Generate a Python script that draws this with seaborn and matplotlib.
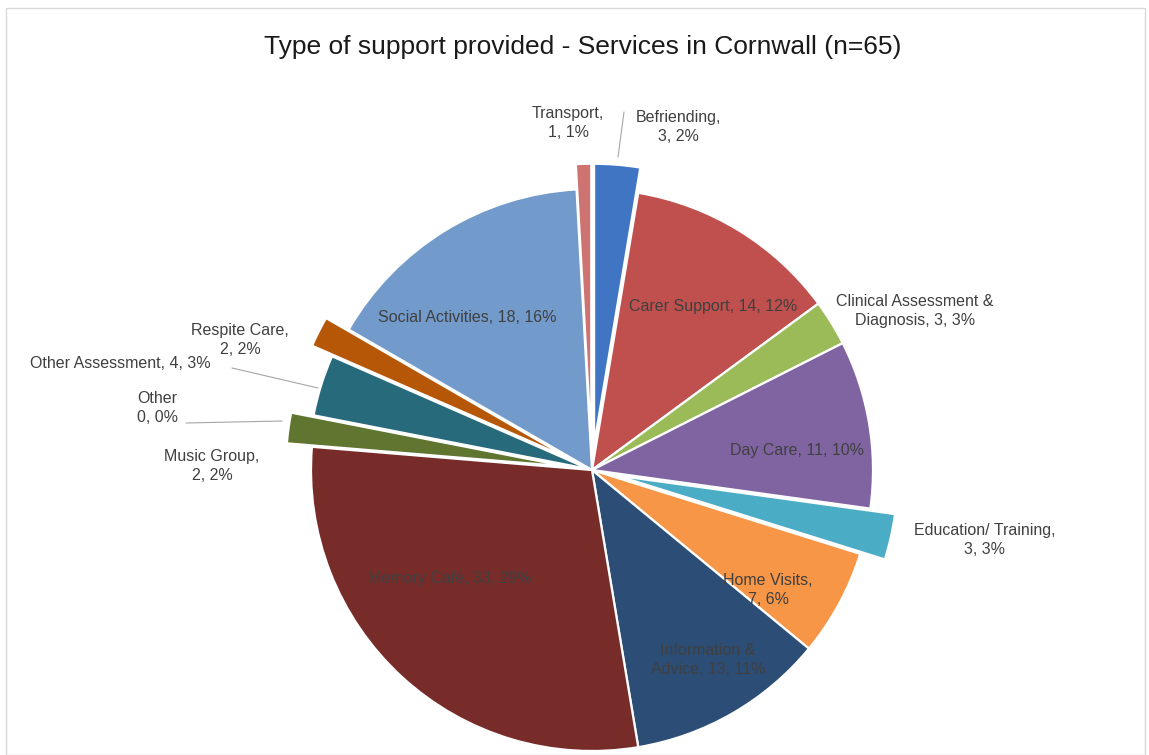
import matplotlib
matplotlib.use("Agg")
import matplotlib.pyplot as plt
from matplotlib.patches import Rectangle
import seaborn as sns

# Support types, clockwise from 12 o'clock
categories = [
    "Befriending", "Carer Support", "Clinical Assessment &\nDiagnosis",
    "Day Care", "Education/ Training", "Home Visits",
    "Information &\nAdvice", "Memory Café", "Music Group", "Other",
    "Other Assessment", "Respite Care", "Social Activities", "Transport",
]
counts = [3, 14, 3, 11, 3, 7, 13, 33, 2, 0, 4, 2, 18, 1]
percent_labels = ["2%", "12%", "3%", "10%", "3%", "6%", "11%", "29%",
                  "2%", "0%", "3%", "2%", "16%", "1%"]
explode = [0.09, 0, 0, 0, 0.09, 0, 0, 0, 0.09, 0, 0.01, 0.09, 0, 0.09]

palette = sns.color_palette([
    "#3F75C2", "#C0504D", "#9BBB59", "#8064A2", "#4BACC6", "#F79646",
    "#2C4D75", "#772C2A", "#5F7530", "#4D3B62", "#276A7C", "#B65708",
    "#729ACA", "#CD7371",
])

sns.set_theme(style="white")
plt.rcParams["font.family"] = ["Liberation Sans Narrow", "Liberation Sans", "DejaVu Sans"]

W, H = 1149, 755
fig = plt.figure(figsize=(W / 100, H / 100), dpi=100)
ax = fig.add_axes([0, 0, 1, 1])

# Pixel frame used for placing text: pie centre and radius in pixels
cx, cy, R = 592, 470, 281


def to_data(px, py):
    return (px - cx) / R, (cy - py) / R


ax.pie(counts, colors=palette, explode=explode, startangle=90,
       counterclock=False, radius=1, center=(0, 0),
       wedgeprops=dict(edgecolor="white", linewidth=1.6))

ax.set_xlim(-cx / R, (W - cx) / R)
ax.set_ylim(-(H - cy) / R, cy / R)
ax.set_aspect("equal")
ax.axis("off")


def label_text(i):
    return f"{categories[i]}, {counts[i]}, {percent_labels[i]}"


def two_line(i):
    return f"{categories[i]},\n{counts[i]}, {percent_labels[i]}"


# (index, pixel x, pixel y, text)
placements = [
    (13, 568, 123, two_line(13)),
    (0, 678, 127, two_line(0)),
    (1, 713, 306, label_text(1)),
    (2, 915, 311, label_text(2)),
    (3, 797, 450, label_text(3)),
    (4, 985, 540, two_line(4)),
    (5, 768, 590, two_line(5)),
    (6, 708, 660, label_text(6)),
    (7, 450, 578, label_text(7)),
    (8, 212, 466, two_line(8)),
    (9, 157, 408, f"{categories[9]}\n{counts[9]}, {percent_labels[9]}"),
    (10, 120, 363, label_text(10)),
    (11, 240, 340, two_line(11)),
    (12, 467, 318, label_text(12)),
]
for i, px, py, txt in placements:
    x, y = to_data(px, py)
    ax.text(x, y, txt, ha="center", va="center", fontsize=11.5,
            color="#404040", linespacing=1.4)

# Leader lines for labels sitting away from their wedges
leaders = [
    ((624, 112), (618, 157)),
    ((186, 423), (282, 421)),
    ((232, 368), (318, 388)),
]
for (x0, y0), (x1, y1) in leaders:
    a = to_data(x0, y0)
    b = to_data(x1, y1)
    ax.plot([a[0], b[0]], [a[1], b[1]], color="#A6A6A6", linewidth=0.8)

tx, ty = to_data(583, 47)
ax.text(tx, ty, "Type of support provided - Services in Cornwall (n=65)",
        ha="center", va="center", fontsize=19, color="#1A1A1A")

# Light chart-area border
fig.patches.append(Rectangle((6 / W, 0), 1 - 10 / W, 1 - 8 / H,
                             transform=fig.transFigure, fill=False,
                             edgecolor="#D9D9D9", linewidth=1))

fig.savefig("out.png", dpi=100, facecolor="white")
